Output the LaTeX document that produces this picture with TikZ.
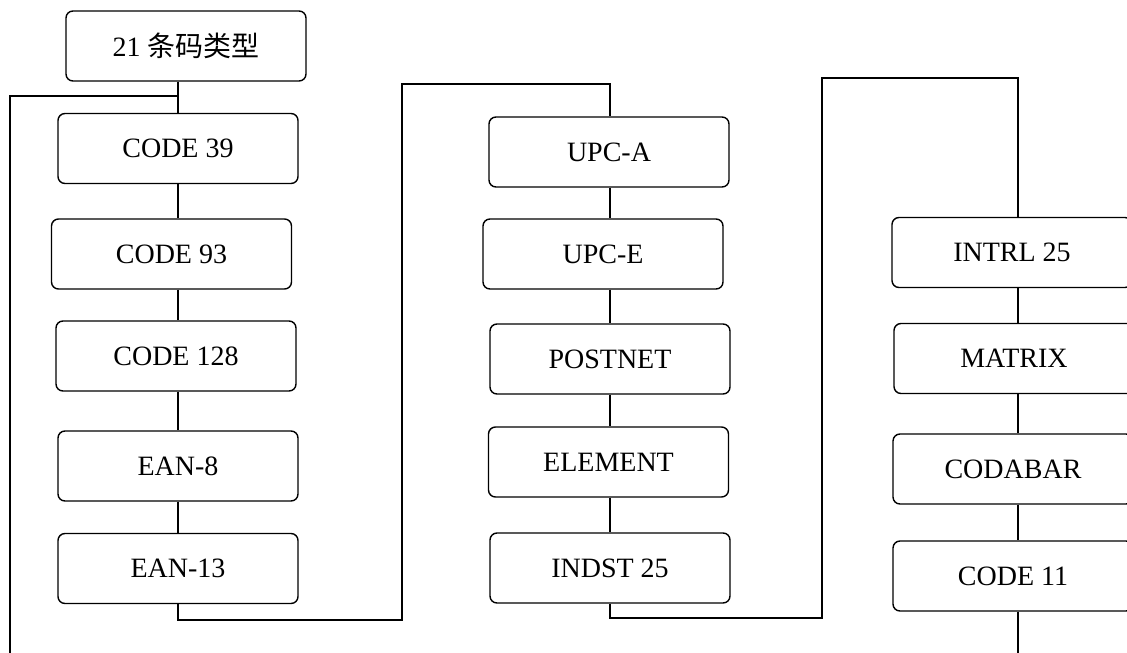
\documentclass[tikz,border=0pt]{standalone}
\usepackage{fontspec}
\setmainfont{Liberation Serif}
\newfontfamily\cjk{Noto Sans CJK SC}
\begin{document}
\begin{tikzpicture}[x=1pt,y=-1pt,
  box/.style={draw,line width=1.4pt,rounded corners=7pt,minimum width=240pt,minimum height=70pt,inner sep=0pt,font=\fontsize{28}{31}\selectfont},
  conn/.style={line width=1.2pt}]
\useasboundingbox (0,0) rectangle (1127,653);
\fill[white] (0,0) rectangle (1127,653);
% column reference coordinates
\coordinate (col1) at (178,0);
\coordinate (col2) at (610,0);
\coordinate (col3) at (1018,0);
% nodes
\node[box] (top) at (186,46) {21 {\cjk 条码类型}};
\node[box] (c39) at (178,148.5) {CODE 39};
\node[box] (c93) at (171.5,254) {CODE 93};
\node[box] (c128) at (176,356) {CODE 128};
\node[box] (ean8) at (178,466) {EAN-8};
\node[box] (ean13) at (178,568.5) {EAN-13};
\node[box] (upca) at (609,152) {UPC-A};
\node[box] (upce) at (603,254) {UPC-E};
\node[box] (postnet) at (610,359) {POSTNET};
\node[box] (element) at (608.5,462) {ELEMENT};
\node[box] (indst) at (610,568) {INDST 25};
\node[box] (intrl) at (1012,252.5) {INTRL 25};
\node[box] (matrix) at (1014,358.5) {MATRIX};
\node[box] (codabar) at (1013,469) {CODABAR};
\node[box] (code11) at (1013,576) {CODE 11};
% junction coordinates
\coordinate (j1) at (178,96);
\coordinate (l1) at (10,96);
\coordinate (l2) at (10,660);
\coordinate (a1) at (178,620);
\coordinate (a2) at (402,620);
\coordinate (a3) at (402,84);
\coordinate (a4) at (610,84);
\coordinate (b1) at (610,618);
\coordinate (b2) at (822,618);
\coordinate (b3) at (822,78);
\coordinate (b4) at (1018,78);
\coordinate (e1) at (1018,660);
% column 1
\draw[conn] (top.south -| col1) -- (c39.north -| col1);
\draw[conn] (j1) -- (l1) -- (l2);
\draw[conn] (c39.south -| col1) -- (c93.north -| col1);
\draw[conn] (c93.south -| col1) -- (c128.north -| col1);
\draw[conn] (c128.south -| col1) -- (ean8.north -| col1);
\draw[conn] (ean8.south -| col1) -- (ean13.north -| col1);
\draw[conn] (ean13.south -| col1) -- (a1) -- (a2) -- (a3) -- (a4) -- (upca.north -| col2);
% column 2
\draw[conn] (upca.south -| col2) -- (upce.north -| col2);
\draw[conn] (upce.south -| col2) -- (postnet.north -| col2);
\draw[conn] (postnet.south -| col2) -- (element.north -| col2);
\draw[conn] (element.south -| col2) -- (indst.north -| col2);
\draw[conn] (indst.south -| col2) -- (b1) -- (b2) -- (b3) -- (b4) -- (intrl.north -| col3);
% column 3
\draw[conn] (intrl.south -| col3) -- (matrix.north -| col3);
\draw[conn] (matrix.south -| col3) -- (codabar.north -| col3);
\draw[conn] (codabar.south -| col3) -- (code11.north -| col3);
\draw[conn] (code11.south -| col3) -- (e1);
\end{tikzpicture}
\end{document}
